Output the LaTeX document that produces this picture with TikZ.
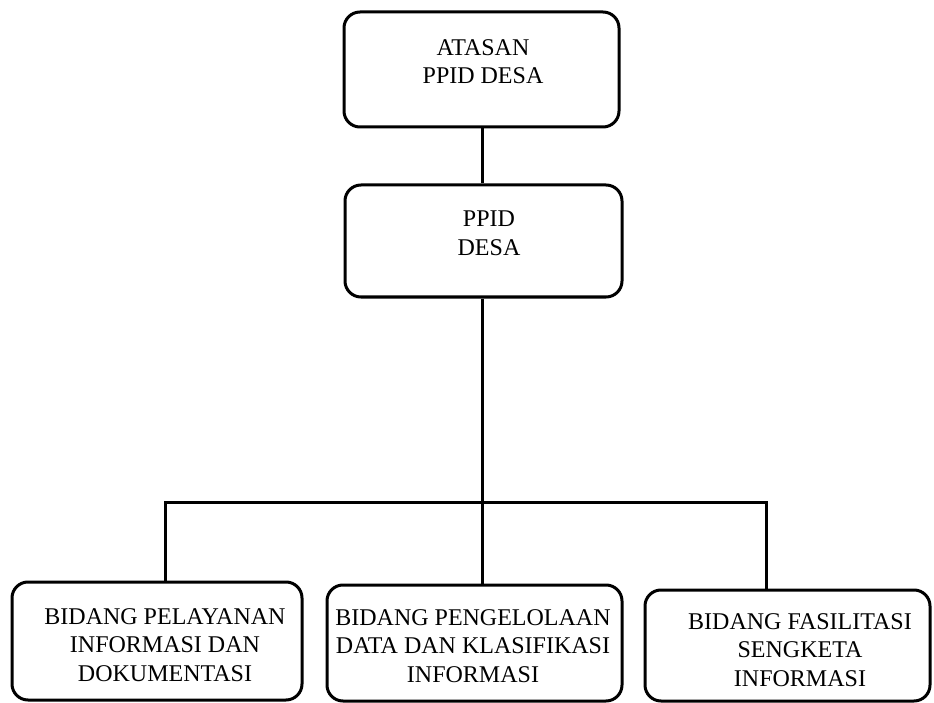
\documentclass[tikz,border=0pt]{standalone}
\usepackage{fontspec}
\setmainfont{Liberation Serif}
\begin{document}
\begin{tikzpicture}[x=1pt,y=-1pt,
  box/.style={draw, line width=3pt, rounded corners=16pt, inner sep=0pt},
  lbl/.style={align=center, font=\fontsize{24}{28.5}\selectfont, inner sep=0pt},
  conn/.style={line width=3pt}]
\useasboundingbox (0,0) rectangle (934,703);
\node[box, minimum width=275pt, minimum height=115pt] (a) at (481.5,69.5) {};
\node[box, minimum width=277pt, minimum height=112pt] (b) at (483.5,241) {};
\node[box, minimum width=290pt, minimum height=118pt] (l) at (157,641) {};
\node[box, minimum width=295pt, minimum height=116pt] (m) at (474.5,643) {};
\node[box, minimum width=285pt, minimum height=111pt] (r) at (787.5,645.5) {};
\node[lbl] (ta) at (483,61.5) {ATASAN\\PPID DESA};
\node[lbl] (tb) at (489,233.5) {PPID\\DESA};
\node[lbl] (tl) at (165,645) {BIDANG PELAYANAN\\INFORMASI DAN\\DOKUMENTASI};
\node[lbl] (tm) at (473,646) {BIDANG PENGELOLAAN\\DATA DAN KLASIFIKASI\\INFORMASI};
\node[lbl] (tr) at (800,650) {BIDANG FASILITASI\\SENGKETA\\INFORMASI};
\coordinate (jl) at (165,502);
\coordinate (jr) at (766,502);
\coordinate (jm) at (482,502);
\draw[conn] (jm |- a.south) -- (jm |- b.north);
\draw[conn] (jm |- b.south) -- (jm |- m.north);
\draw[conn] (jl |- l.north) -- (jl) -- (jr) -- (jr |- r.north);
\end{tikzpicture}
\end{document}
